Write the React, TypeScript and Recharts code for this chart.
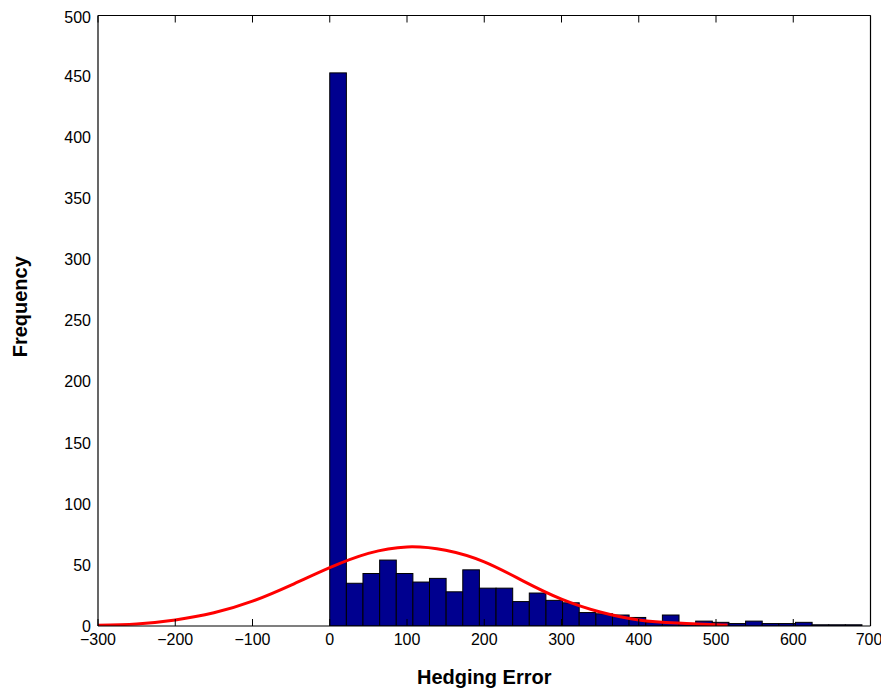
import React from 'react'
import { ComposedChart, Bar, Line, XAxis, YAxis, Label } from 'recharts'

// histogram bins (centres) and counts
const BIN_CENTERS = [
  10.8, 32.3, 53.8, 75.4, 96.9, 118.4, 139.9, 161.5,
  183.0, 204.5, 226.1, 247.6, 269.1, 290.7, 312.2, 333.7,
  355.3, 376.8, 398.3, 419.9, 441.4, 462.9, 484.5, 506.0,
  527.5, 549.1, 570.6, 592.1, 613.7, 635.2, 656.7, 678.2,
]
const BIN_COUNTS = [
  453, 35, 43, 54, 43, 36, 39, 28,
  46, 31, 31, 20, 27, 21, 19, 11,
  10, 9, 7, 3, 9, 2, 4, 3,
  2, 4, 2, 2, 3, 1, 1, 1,
]
const BIN_WIDTH = 21.53

// fitted curve
const FIT_X = [-300, -250, -200, -150, -100, -50, 0, 50, 100, 150, 200, 250, 300, 350, 400, 450, 500, 515]
const FIT_Y = [0.7, 1.7, 5, 10.8, 20.3, 33.5, 47.8, 59.5, 64.8, 62, 52.5, 37, 22, 11.5, 5, 2.4, 1.1, 0.9]

const X_TICKS = [-300, -200, -100, 0, 100, 200, 300, 400, 500, 600, 700]
const Y_TICKS = [0, 50, 100, 150, 200, 250, 300, 350, 400, 450, 500]

const FONT = '"Liberation Sans", Arial, Helvetica, sans-serif'
const W = 873
const H = 684
const MARGIN = { top: 7.5, right: 10.5, left: 0, bottom: 0 }
const Y_AXIS_W = 90
const X_AXIS_H = 66
const PLOT_W = W - MARGIN.left - MARGIN.right - Y_AXIS_W
const BAR_PX = (BIN_WIDTH / 1000) * PLOT_W

const bins = BIN_CENTERS.map((x, i) => ({ x, count: BIN_COUNTS[i] }))
const fit = FIT_X.map((x, i) => ({ x, fit: FIT_Y[i] }))

const minus = (v: number) => (v < 0 ? `\u2212${Math.abs(v)}` : `${v}`)
const noTick = () => <g />

// histogram bar: keep the scale's centre, use the full bin width
function BinRect(props: any) {
  const { x, y, width, height } = props
  if (height == null || height <= 0) return <g />
  const cx = x + width / 2
  return (
    <rect x={cx - BAR_PX / 2} y={y} width={BAR_PX} height={height}
      fill="#00008f" stroke="#000" strokeWidth={1} />
  )
}

function FrequencyLabel(props: any) {
  const vb = props.viewBox
  const cx = vb.x + 19
  const cy = vb.y + vb.height / 2 - 14
  return (
    <text x={cx} y={cy} transform={`rotate(-90 ${cx} ${cy})`} textAnchor="middle"
      fontFamily={FONT} fontSize={20} fontWeight="bold" fill="#000">
      Frequency
    </text>
  )
}

function HedgingLabel(props: any) {
  const vb = props.viewBox
  return (
    <text x={vb.x + vb.width / 2} y={vb.y + 58} textAnchor="middle"
      fontFamily={FONT} fontSize={20} fontWeight="bold" fill="#000">
      Hedging Error
    </text>
  )
}

export default function App() {
  const tickStyle = { fill: '#000', fontSize: 16, fontFamily: FONT }
  return (
    <div style={{ width: W, height: H, background: '#fff' }}>
      <ComposedChart width={W} height={H} data={bins} margin={MARGIN}>
        {/* labelled axes */}
        <XAxis
          xAxisId="main"
          dataKey="x"
          type="number"
          domain={[-300, 700]}
          ticks={X_TICKS}
          tickFormatter={minus}
          allowDataOverflow
          height={X_AXIS_H}
          tick={tickStyle}
          tickLine={false}
          tickSize={0}
          tickMargin={8}
          axisLine={{ stroke: '#000', strokeWidth: 1.2 }}
        >
          <Label content={HedgingLabel} />
        </XAxis>
        <YAxis
          yAxisId="main"
          type="number"
          domain={[0, 500]}
          ticks={Y_TICKS}
          allowDataOverflow
          width={Y_AXIS_W}
          tick={tickStyle}
          tickLine={false}
          tickSize={0}
          tickMargin={7}
          axisLine={{ stroke: '#000', strokeWidth: 1.2 }}
        >
          <Label content={FrequencyLabel} />
        </YAxis>

        {/* inward ticks and box */}
        <XAxis xAxisId="bin" type="number" dataKey="x" domain={[-300, 700]} ticks={X_TICKS}
          mirror tick={noTick} tickSize={7} tickLine={{ stroke: '#000' }} axisLine={false} />
        <XAxis xAxisId="top" orientation="top" type="number" dataKey="x" domain={[-300, 700]} ticks={X_TICKS}
          mirror tick={noTick} tickSize={7} tickLine={{ stroke: '#000' }} axisLine={{ stroke: '#000', strokeWidth: 1.2 }} />
        <YAxis yAxisId="lin" type="number" domain={[0, 500]} ticks={Y_TICKS}
          mirror tick={noTick} tickSize={7} tickLine={{ stroke: '#000' }} axisLine={false} />
        <YAxis yAxisId="right" orientation="right" type="number" domain={[0, 500]} ticks={Y_TICKS}
          mirror tick={noTick} tickSize={7} tickLine={{ stroke: '#000' }} axisLine={{ stroke: '#000', strokeWidth: 1.2 }} />

        <Bar
          xAxisId="main"
          yAxisId="main"
          dataKey="count"
          fill="#00008f"
          stroke="#000"
          shape={BinRect}
          isAnimationActive={false}
        />
        <Line
          xAxisId="main"
          yAxisId="main"
          data={fit}
          dataKey="fit"
          type="natural"
          stroke="#ff0000"
          strokeWidth={3}
          dot={false}
          activeDot={false}
          isAnimationActive={false}
        />
      </ComposedChart>
    </div>
  )
}
